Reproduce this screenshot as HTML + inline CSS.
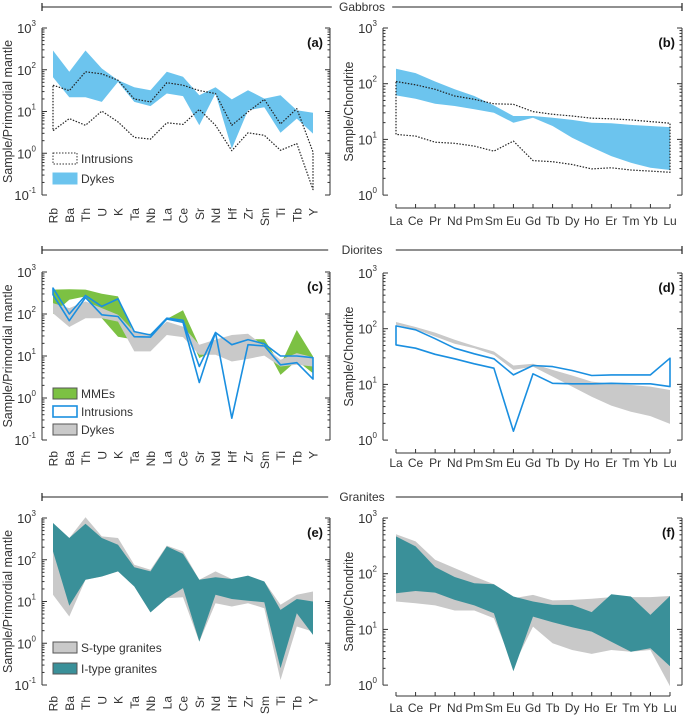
<!DOCTYPE html>
<html><head><meta charset="utf-8">
<style>
body{margin:0;background:#fff;}
svg{display:block;font-family:"Liberation Sans",sans-serif;}
</style></head>
<body>
<svg id="fig" width="685" height="720" viewBox="0 0 685 720" xmlns="http://www.w3.org/2000/svg"></svg>
<script>
// Categories
const spiderCats = ["Rb","Ba","Th","U","K","Ta","Nb","La","Ce","Sr","Nd","Hf","Zr","Sm","Ti","Tb","Y"];
const reeCats = ["La","Ce","Pr","Nd","Pm","Sm","Eu","Gd","Tb","Dy","Ho","Er","Tm","Yb","Lu"];
const spiderExp = ["3","2","1","0","-1"];
const reeExp = ["3","2","1","0"];
// (a) gabbros, log10 values
const aDykesUp = [2.46,1.95,2.46,2.03,1.75,1.58,1.51,1.95,1.83,1.39,1.58,1.29,1.51,1.31,1.39,1.03,0.97];
const aDykesLo = [1.82,1.34,1.34,1.23,1.71,1.23,1.13,1.43,1.37,0.67,1.43,0.11,1.03,1.10,0.49,0.83,0.47];
const aIntrUp = [1.63,1.50,1.95,1.90,1.75,1.30,1.23,1.69,1.63,1.50,1.43,0.67,0.99,1.29,0.70,1.07,0.03];
const aIntrLo = [0.54,0.83,0.67,1.01,0.75,0.38,0.34,0.73,0.69,1.05,0.67,0.06,0.49,0.43,0.07,0.23,-0.87];
// (b)
const bDykesUp = [2.27,2.19,2.04,1.90,1.78,1.61,1.42,1.42,1.39,1.35,1.30,1.29,1.26,1.24,1.22];
const bDykesLo = [1.79,1.73,1.64,1.60,1.54,1.48,1.30,1.39,1.24,1.03,0.86,0.70,0.58,0.49,0.45];
const bIntrUp = [2.04,1.98,1.90,1.78,1.72,1.64,1.63,1.50,1.45,1.42,1.38,1.37,1.35,1.32,1.29];
const bIntrLo = [1.09,1.06,0.95,0.93,0.88,0.79,0.97,0.62,0.60,0.55,0.47,0.49,0.45,0.43,0.41];
// (c) diorites
const cMmeUp = [2.58,2.59,2.58,2.48,2.42,1.50,1.53,1.88,2.09,1.24,1.19,1.10,1.40,1.40,0.79,1.62,0.99];
const cMmeLo = [2.00,2.34,2.42,1.90,1.46,1.39,1.46,1.86,1.82,0.95,1.15,1.03,1.23,1.27,0.55,0.89,0.59];
const cDykesUp = [2.26,2.14,2.30,2.14,1.98,1.58,1.50,1.82,1.70,1.27,1.39,1.50,1.53,1.23,0.91,1.07,0.97];
const cDykesLo = [2.02,1.69,1.90,1.90,1.82,1.11,1.11,1.50,1.45,1.03,1.03,0.87,0.93,1.01,0.75,0.79,0.75];
const cIntrUp = [2.62,2.00,2.44,2.18,2.36,1.58,1.50,1.90,1.85,0.75,1.56,1.27,1.39,1.29,1.00,1.00,0.96];
const cIntrLo = [2.46,1.84,2.39,1.98,1.94,1.46,1.45,1.88,1.80,0.37,1.56,-0.48,1.27,1.24,0.79,0.84,0.45];
// (d)
const dDykesUp = [2.12,2.03,1.93,1.80,1.69,1.59,1.34,1.37,1.26,1.16,1.05,1.01,0.99,0.96,0.90];
const dDykesLo = [2.07,1.99,1.86,1.73,1.65,1.53,1.26,1.32,1.14,0.96,0.78,0.62,0.51,0.43,0.29];
const dIntrUp = [2.05,1.98,1.82,1.65,1.55,1.46,1.17,1.34,1.32,1.25,1.16,1.17,1.17,1.17,1.47];
const dIntrLo = [1.71,1.65,1.54,1.46,1.37,1.29,0.16,1.19,1.02,1.01,1.01,1.02,1.01,1.01,0.96];
// (e) granites
const eSUp = [2.88,2.52,3.02,2.56,2.52,1.88,1.76,2.34,2.20,1.52,1.72,1.54,1.60,1.48,0.92,1.16,1.24];
const eSLo = [1.16,0.64,1.52,1.60,1.72,1.36,0.74,1.08,1.10,0.04,0.96,0.88,0.96,0.84,-0.88,0.40,0.28];
const eIUp = [2.88,2.52,2.86,2.52,2.36,1.82,1.72,2.32,2.14,1.52,1.58,1.54,1.62,1.48,0.80,1.06,1.00];
const eILo = [2.20,0.90,1.52,1.60,1.72,1.36,0.74,1.08,1.32,0.04,1.16,1.06,1.02,0.98,-0.60,0.72,0.20];
// (f)
const fSUp = [2.71,2.58,2.25,2.10,1.95,1.81,1.56,1.62,1.52,1.53,1.55,1.58,1.58,1.58,1.60];
const fSLo = [1.50,1.47,1.43,1.34,1.34,1.20,0.34,1.05,0.75,0.63,0.56,0.63,0.60,0.63,-0.02];
const fIUp = [2.67,2.49,2.12,1.94,1.83,1.81,1.59,1.50,1.44,1.44,1.31,1.63,1.59,1.26,1.60];
const fILo = [1.65,1.69,1.66,1.53,1.43,1.29,0.25,1.23,1.13,1.04,0.96,0.78,0.60,0.66,0.34];

const NS="http://www.w3.org/2000/svg";
const svg=document.getElementById('fig');
function mk(tag,attrs,parent){const e=document.createElementNS(NS,tag);for(const k in attrs)e.setAttribute(k,attrs[k]);(parent||svg).appendChild(e);return e;}

function header(y,x1,x2,label,name){
  const g=mk('g',{});
  
  
  const tw=label.length*7.2+10;const cx=(x1+x2)/2;
  mk('line',{x1:x1,y1:y,x2:cx-tw/2,y2:y,stroke:'#222','stroke-width':1},g);
  mk('line',{x1:cx+tw/2,y1:y,x2:x2,y2:y,stroke:'#222','stroke-width':1},g);
  mk('line',{x1:x1,y1:y-4,x2:x1,y2:y+4,stroke:'#222','stroke-width':1.2},g);
  mk('line',{x1:x2,y1:y-4,x2:x2,y2:y+4,stroke:'#222','stroke-width':1.2},g);
  const t=mk('text',{x:cx,y:y+4,'text-anchor':'middle','font-size':12,fill:'#333'},g);t.textContent=label;
}
header(7,42,682,'Gabbros','header-gabbros');
header(250,42,682,'Diorites','header-diorites');
header(497,42,682,'Granites','header-granites');

function panel(p){
  const g=mk('g',{});
  
  
  const n=p.cats.length;
  const xs=i=>p.x0+i*(p.x1-p.x0)/(n-1);
  const ys=v=>p.yTop+(p.maxExp-v)*p.dec;
  const yBot=ys(p.minExp);
  p.series.forEach(s=>{
    let pts=[];
    for(let i=0;i<n;i++)pts.push(xs(i).toFixed(1)+','+ys(s.up[i]).toFixed(1));
    for(let i=n-1;i>=0;i--)pts.push(xs(i).toFixed(1)+','+ys(s.lo[i]).toFixed(1));
    const pg=mk('polygon',{points:pts.join(' '),fill:s.fill,stroke:s.stroke||'none','stroke-width':s.sw||0,'stroke-dasharray':s.dash||'none','stroke-linejoin':'round'},g);
    
    
  });
  const ax=mk('g',{stroke:'#333','stroke-width':1,fill:'none'},g);
  
  
  mk('line',{x1:p.ax,y1:p.yTop,x2:p.ax,y2:yBot},ax);
  mk('line',{x1:p.rx,y1:p.yTop,x2:p.rx,y2:yBot},ax);
  for(let e=p.minExp;e<=p.maxExp;e++){
    const y=ys(e);
    mk('line',{x1:p.ax,y1:y,x2:p.ax+5,y2:y},ax);
    mk('line',{x1:p.rx,y1:y,x2:p.rx-5,y2:y},ax);
    if(e<p.maxExp){for(let m=2;m<10;m++){const yy=ys(e+Math.log10(m));
      mk('line',{x1:p.ax,y1:yy,x2:p.ax+2.5,y2:yy},ax);mk('line',{x1:p.rx,y1:yy,x2:p.rx-2.5,y2:yy},ax);}}
  }
  p.exps.forEach((ex,k)=>{
    const e=p.maxExp-k;const y=ys(e);
    const t=mk('text',{x:p.ax-6,y:y+5,'text-anchor':'end','font-size':13,fill:'#333'},g);
    t.textContent='10';
    const sp=mk('tspan',{dy:-7,'font-size':8},t);sp.textContent=ex;
    
    
  });
  const yl=mk('text',{transform:`translate(${p.ax-30},${(p.yTop+yBot)/2}) rotate(-90)`,'text-anchor':'middle','font-size':12.5,fill:'#333'},g);
  yl.textContent=p.ylab;
  
  
  const xa=mk('g',{stroke:'#333','stroke-width':1},g);
  
  
  if(!p.rot){
    mk('line',{x1:p.x0,y1:p.base,x2:p.x1,y2:p.base},xa);
    for(let i=0;i<n;i++)mk('line',{x1:xs(i),y1:p.base,x2:xs(i),y2:p.base-4},xa);
  }
  p.cats.forEach((c,i)=>{
    let t;
    if(p.rot){t=mk('text',{transform:`translate(${xs(i)+4.5},${p.lab}) rotate(-90)`,'text-anchor':'end','font-size':12,fill:'#333'},g);}
    else{t=mk('text',{x:xs(i),y:p.lab,'text-anchor':'middle','font-size':12,fill:'#333'},g);}
    t.textContent=c;
    
    
  });
  const pl=mk('text',{x:p.rx-7,y:p.yTop+19,'text-anchor':'end','font-size':13,'font-weight':'bold',fill:'#111'},g);
  pl.textContent=p.tag;
  
  
  (p.legend||[]).forEach(l=>{
    const lg=mk('g',{},g);
    
    
    mk('rect',{x:53,y:l.y,width:24,height:11,fill:l.fill,stroke:l.stroke,'stroke-width':l.sw||1,'stroke-dasharray':l.dash||'none'},lg);
    const t=mk('text',{x:81,y:l.y+10,'font-size':12,fill:'#333'},lg);t.textContent=l.label;
  });
}
const BLUEF='#6cc4ee', GREEN='#7cc143', BLUEL='#1a8fe0', GREY='#c9c9c9', TEAL='#3a9099';
panel({name:'panel-a',tag:'(a)',cats:spiderCats,x0:53,x1:313,ax:42,rx:330,yTop:28,dec:41.75,maxExp:3,minExp:-1,exps:spiderExp,base:200,lab:208,rot:true,ylab:'Sample/Primordial mantle',
  series:[{name:'dykes-band',up:aDykesUp,lo:aDykesLo,fill:BLUEF},{name:'intrusions-band',up:aIntrUp,lo:aIntrLo,fill:'none',stroke:'#222',sw:1.2,dash:'1.5,1.5'}],
  legend:[{y:153,label:'Intrusions',fill:'none',stroke:'#333',dash:'1.5,1.5'},{y:173,label:'Dykes',fill:BLUEF,stroke:BLUEF}]});
panel({name:'panel-b',tag:'(b)',cats:reeCats,x0:396,x1:670,ax:383,rx:682,yTop:28,dec:55.7,maxExp:3,minExp:0,exps:reeExp,base:208,lab:225,rot:false,ylab:'Sample/Chondrite',
  series:[{name:'dykes-band',up:bDykesUp,lo:bDykesLo,fill:BLUEF},{name:'intrusions-band',up:bIntrUp,lo:bIntrLo,fill:'none',stroke:'#222',sw:1.2,dash:'1.5,1.5'}]});
panel({name:'panel-c',tag:'(c)',cats:spiderCats,x0:53,x1:313,ax:42,rx:330,yTop:272,dec:42,maxExp:3,minExp:-1,exps:spiderExp,base:443,lab:451,rot:true,ylab:'Sample/Primordial mantle',
  series:[{name:'mme-band',up:cMmeUp,lo:cMmeLo,fill:GREEN},{name:'dykes-band',up:cDykesUp,lo:cDykesLo,fill:GREY},{name:'intrusions-band',up:cIntrUp,lo:cIntrLo,fill:'none',stroke:BLUEL,sw:1.6}],
  legend:[{y:388,label:'MMEs',fill:GREEN,stroke:'#555'},{y:406,label:'Intrusions',fill:'#fff',stroke:BLUEL,sw:1.6},{y:424,label:'Dykes',fill:GREY,stroke:'#555'}]});
panel({name:'panel-d',tag:'(d)',cats:reeCats,x0:396,x1:670,ax:383,rx:682,yTop:273,dec:55.7,maxExp:3,minExp:0,exps:reeExp,base:453,lab:467,rot:false,ylab:'Sample/Chondrite',
  series:[{name:'dykes-band',up:dDykesUp,lo:dDykesLo,fill:GREY},{name:'intrusions-band',up:dIntrUp,lo:dIntrLo,fill:'none',stroke:BLUEL,sw:1.6}]});
panel({name:'panel-e',tag:'(e)',cats:spiderCats,x0:53,x1:313,ax:42,rx:330,yTop:518,dec:41.75,maxExp:3,minExp:-1,exps:spiderExp,base:689,lab:696,rot:true,ylab:'Sample/Primordial mantle',
  series:[{name:'s-type-band',up:eSUp,lo:eSLo,fill:GREY},{name:'i-type-band',up:eIUp,lo:eILo,fill:TEAL}],
  legend:[{y:642,label:'S-type granites',fill:GREY,stroke:'#555'},{y:663,label:'I-type granites',fill:TEAL,stroke:'#555'}]});
panel({name:'panel-f',tag:'(f)',cats:reeCats,x0:396,x1:670,ax:383,rx:682,yTop:518,dec:55.7,maxExp:3,minExp:0,exps:reeExp,base:696,lab:712,rot:false,ylab:'Sample/Chondrite',
  series:[{name:'s-type-band',up:fSUp,lo:fSLo,fill:GREY},{name:'i-type-band',up:fIUp,lo:fILo,fill:TEAL}]});
</script>
</body></html>
